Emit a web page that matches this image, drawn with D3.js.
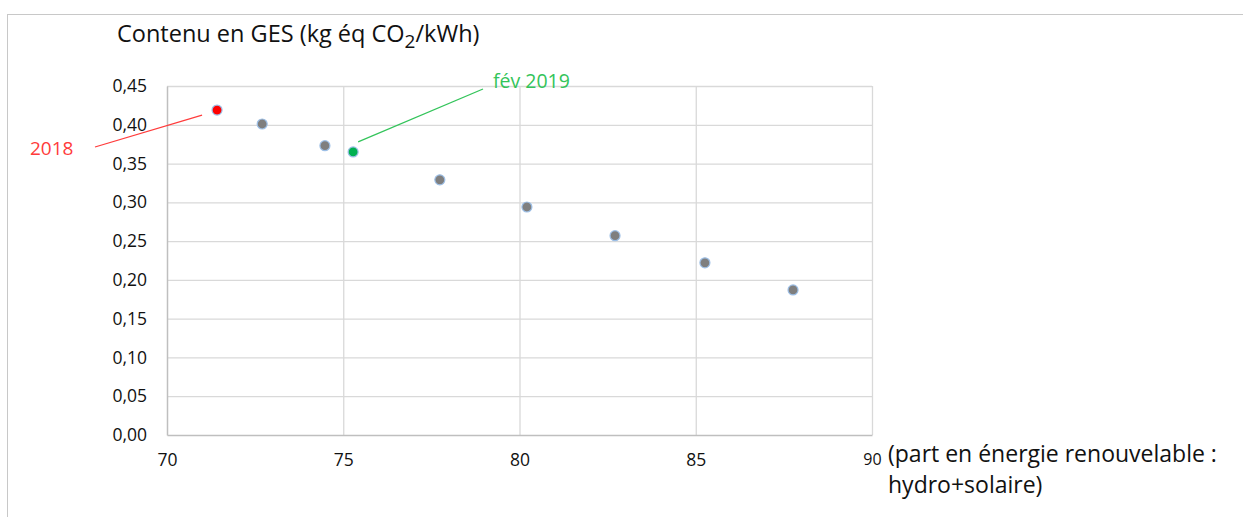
<!DOCTYPE html>
<html><head><meta charset="utf-8">
<script src="https://cdn.jsdelivr.net/npm/d3@7"></script>
<style>body{margin:0;background:#fff}text{font-family:"Open Sans","Noto Sans",sans-serif}</style>
</head><body>
<svg id="c" width="1243" height="517"></svg>
<script>
const renewShare = [71.42, 72.7, 74.48, 75.28, 77.74, 80.21, 82.71, 85.26, 87.76];
const ghgContent = [0.419, 0.401, 0.373, 0.365, 0.329, 0.294, 0.257, 0.222, 0.187];
const pointLabels = ["2018", "", "", "fév 2019", "", "", "", "", ""];
const xTicks = [70, 75, 80, 85, 90];
const yTicks = [0, 0.05, 0.10, 0.15, 0.20, 0.25, 0.30, 0.35, 0.40, 0.45];

const svg = d3.select("#c");
svg.append("rect").attr("x", 7.5).attr("y", 14.5).attr("width", 1250).attr("height", 520)
  .attr("fill", "none").attr("stroke", "#c8c8c8");

const x = d3.scaleLinear().domain([70, 90]).range([167, 872]);
const y = d3.scaleLinear().domain([0, 0.45]).range([435, 86]);
const fmt = d => d3.format(".2f")(d).replace(".", ",");

// grid
svg.append("g").selectAll("line").data(yTicks.slice(1)).join("line")
  .attr("x1", x(70)).attr("x2", x(90)).attr("y1", d => y(d) + 0.5).attr("y2", d => y(d) + 0.5)
  .attr("stroke", "#d9d9d9").attr("stroke-width", 1.3);
svg.append("g").selectAll("line").data(xTicks.slice(1)).join("line")
  .attr("y1", y(0)).attr("y2", y(0.45)).attr("x1", d => x(d) + 0.5).attr("x2", d => x(d) + 0.5)
  .attr("stroke", "#d9d9d9").attr("stroke-width", 1.3);

// axes
const yAxis = d3.axisLeft(y).tickValues(yTicks).tickFormat(fmt).tickSize(0).tickPadding(20);
const gy = svg.append("g").attr("transform", `translate(${x(70)},0)`).call(yAxis);
gy.select(".domain").attr("stroke", "#bfbfbf").attr("stroke-width", 1.5);
gy.selectAll("text").attr("font-size", 17.5).attr("fill", "#111");

const xAxis = d3.axisBottom(x).tickValues(xTicks).tickFormat(d3.format("d")).tickSize(0).tickPadding(19);
const gx = svg.append("g").attr("transform", `translate(0,${y(0)})`).call(xAxis);
gx.select(".domain").attr("stroke", "#bfbfbf").attr("stroke-width", 1.5);
gx.selectAll("text").attr("font-size", d => d === 90 ? 16 : 17.5).attr("fill", "#111");

// titles
const t = svg.append("text").attr("x", 117).attr("y", 42).attr("font-size", 23.5).attr("fill", "#111");
t.append("tspan").text("Contenu en GES (kg éq CO");
t.append("tspan").attr("dy", 6).attr("font-size", 19).text("2");
t.append("tspan").attr("dy", -6).text("/kWh)");
const xt = svg.append("text").attr("x", 888).attr("y", 462).attr("font-size", 23).attr("fill", "#111");
xt.append("tspan").text("(part en énergie renouvelable :");
xt.append("tspan").attr("x", 888).attr("dy", 31).text("hydro+solaire)");

// annotations
const pts = renewShare.map((v, i) => ({ x: v, y: ghgContent[i], label: pointLabels[i] }));
const p2018 = pts[0], pFev = pts[3];
svg.append("line").attr("x1", 95).attr("y1", 147).attr("x2", x(p2018.x) - 15).attr("y2", y(p2018.y) + 5)
  .attr("stroke", "#ff3b3b").attr("stroke-width", 1.3);
svg.append("text").attr("x", 30).attr("y", 155).attr("font-size", 19).attr("fill", "#ff3b3b").text(p2018.label);
svg.append("line").attr("x1", x(pFev.x) + 5).attr("y1", y(pFev.y) - 10).attr("x2", 483).attr("y2", 89)
  .attr("stroke", "#33c45a").attr("stroke-width", 1.3);
svg.append("text").attr("x", 493).attr("y", 88).attr("font-size", 19.5).attr("fill", "#33c45a").text(pFev.label);

// points
svg.append("g").selectAll("circle").data(pts).join("circle")
  .attr("cx", d => x(d.x)).attr("cy", d => y(d.y)).attr("r", 5)
  .attr("fill", d => d.label === "2018" ? "#ff0000" : d.label ? "#00b050" : "#7f7f7f")
  .attr("stroke", "#9dbfe6").attr("stroke-width", 1.2);
</script>
</body></html>
